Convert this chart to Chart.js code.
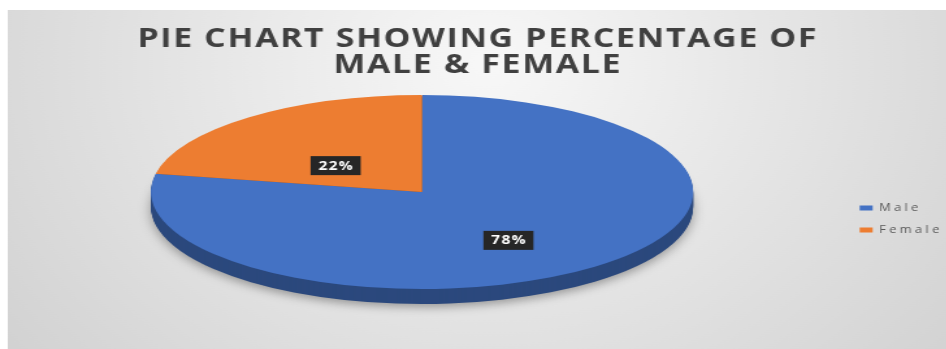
<!DOCTYPE html>
<html>
<head>
<meta charset="utf-8">
<script src="https://cdn.jsdelivr.net/npm/chart.js@4.4.1/dist/chart.umd.min.js"></script>
<style>
  html, body { margin: 0; padding: 0; overflow: hidden; background: #fff; }
</style>
</head>
<body>
<!-- drawn at 750px and shown 1.3x wider, like the stretched screenshot -->
<canvas id="pieChart" width="750" height="349" style="display:block;width:975px;height:349px"></canvas>
<script>
// chart data
var categories = ['Male', 'Female'];
var percentages = [78, 22];
var titleLines = ['PIE CHART SHOWING PERCENTAGE OF', 'MALE & FEMALE'];

// look
var sliceColors = ['#4472C4', '#ED7D31'];
var PIE_STRETCH = 2.15;   // horizontal radius / vertical radius of the tilted pie
var PIE_DEPTH = 15;       // thickness of the pie side
var LABEL_DROP = 11;

// wrap a box's fit/draw so its text gets some letter spacing
function spaceOut(chart, box, spacing) {
    ['fit', 'draw'].forEach(function(name) {
        var orig = box[name];
        box[name] = function() {
            chart.ctx.letterSpacing = spacing;
            var r = orig.apply(this, arguments);
            chart.ctx.letterSpacing = '0px';
            return r;
        };
    });
}

// background, 3d side, tilt and data labels
var piePlugin = {
    id: 'pie3d',
    beforeDraw: function(chart) {
        var ctx = chart.ctx, w = chart.width, h = chart.height;
        ctx.save();
        ctx.fillStyle = '#ffffff';
        ctx.fillRect(0, 0, w, h);
        var g = ctx.createRadialGradient(w * 0.5, h * 0.18, 10, w * 0.5, h * 0.18, w * 0.62);
        g.addColorStop(0, '#f7f7f7');
        g.addColorStop(1, '#d2d2d2');
        ctx.fillStyle = g;
        ctx.fillRect(6, 10, w, h);
        ctx.restore();
    },
    afterInit: function(chart) {
        spaceOut(chart, chart.legend, '2.5px');
        spaceOut(chart, chart.titleBlock, '1.3px');
    },
    beforeDatasetsDraw: function(chart) {
        var ctx = chart.ctx;
        var arcs = chart.getDatasetMeta(0).data;
        var cx = arcs[0].x, cy = arcs[0].y;
        ctx.save();
        ctx.translate(cx, cy);
        ctx.scale(PIE_STRETCH, 1);
        ctx.translate(-cx, -cy);

        // side of the pie: same slices, pushed down and darker
        ctx.save();
        ctx.filter = 'brightness(0.64)';
        for (var d = PIE_DEPTH; d >= 1; d--) {
            ctx.save();
            ctx.translate(0, d);
            if (d === PIE_DEPTH) {
                ctx.shadowColor = 'rgba(0,0,0,0.35)';
                ctx.shadowBlur = 10;
                ctx.shadowOffsetY = 3;
            }
            arcs.forEach(function(a) { a.draw(ctx); });
            ctx.restore();
        }
        ctx.restore();
    },
    afterDatasetsDraw: function(chart) {
        var ctx = chart.ctx;
        ctx.restore();

        var arcs = chart.getDatasetMeta(0).data;
        ctx.save();
        ctx.font = 'bold 12px "Open Sans"';
        ctx.letterSpacing = '1px';
        ctx.textAlign = 'center';
        ctx.textBaseline = 'middle';
        arcs.forEach(function(arc, i) {
            var p = arc.getCenterPoint();
            var x = arc.x + (p.x - arc.x) * PIE_STRETCH;
            var y = p.y + LABEL_DROP;
            var text = percentages[i] + '%';
            var bw = ctx.measureText(text).width + 11, bh = 19;
            ctx.fillStyle = '#262626';
            ctx.fillRect(x - bw / 2, y - bh / 2, bw, bh);
            ctx.fillStyle = '#ffffff';
            ctx.fillText(text, x + 0.5, y + 0.5);
        });
        ctx.restore();
    }
};

var ctx = document.getElementById('pieChart').getContext('2d');
var genderChart = new Chart(ctx, {
    type: 'pie',
    data: {
        labels: categories,
        datasets: [{
            data: percentages,
            backgroundColor: sliceColors,
            borderColor: sliceColors,
            borderWidth: 0,
            clip: false
        }]
    },
    options: {
        responsive: false,
        animation: false,
        devicePixelRatio: 1,
        events: [],
        layout: {
            padding: { left: 0, right: 15, top: 0, bottom: 60 }
        },
        plugins: {
            tooltip: { enabled: false },
            title: {
                display: true,
                text: titleLines,
                color: '#404040',
                font: { family: 'Open Sans', size: 26, weight: 'bold', lineHeight: 1.0 },
                padding: { top: 27, bottom: 16 }
            },
            legend: {
                position: 'right',
                align: 'start',
                title: {
                    display: true,
                    text: '',
                    font: { size: 10 },
                    padding: { top: 179, bottom: 0 }
                },
                labels: {
                    color: '#595959',
                    font: { family: 'Open Sans', size: 10 },
                    boxWidth: 10,
                    boxHeight: 5,
                    padding: 12
                }
            }
        }
    },
    plugins: [piePlugin]
});
</script>
</body>
</html>
